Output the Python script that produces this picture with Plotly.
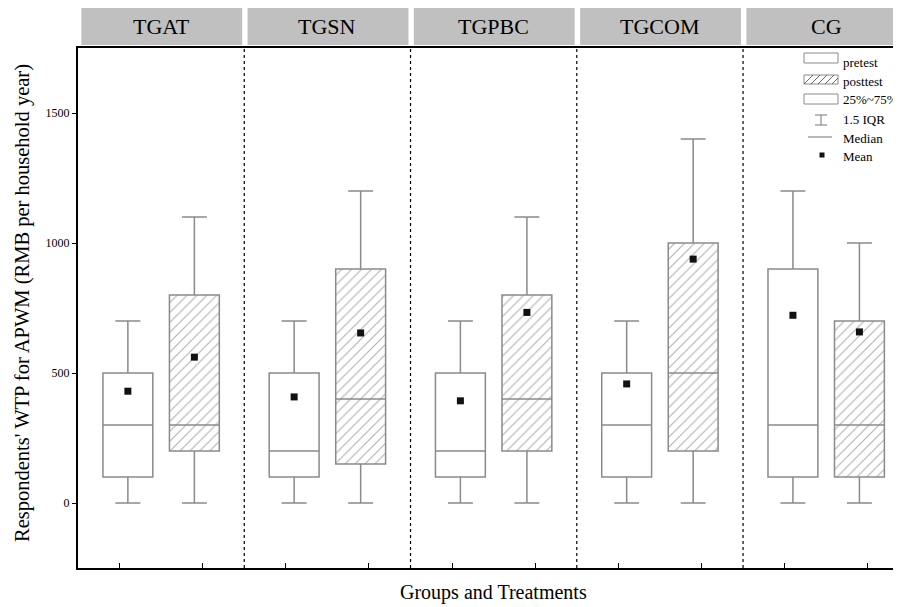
import plotly.graph_objects as go

# ---- data ----
groups = ["TGAT", "TGSN", "TGPBC", "TGCOM", "CG"]
pre_q1 = [100, 100, 100, 100, 100]
pre_median = [300, 200, 200, 300, 300]
pre_q3 = [500, 500, 500, 500, 900]
pre_low = [0, 0, 0, 0, 0]
pre_high = [700, 700, 700, 700, 1200]
pre_mean = [430, 408, 393, 458, 722]

post_q1 = [200, 150, 200, 200, 100]
post_median = [300, 400, 400, 500, 300]
post_q3 = [800, 900, 800, 1000, 700]
post_low = [0, 0, 0, 0, 0]
post_high = [1100, 1200, 1100, 1400, 1000]
post_mean = [561, 654, 733, 938, 658]

y_ticks = [0, 500, 1000, 1500]
legend_labels = ["pretest", "posttest", "25%~75%", "1.5 IQR", "Median", "Mean"]

# ---- layout constants (page body has an 8px margin) ----
OFF = 8
W, H = 901 - OFF, 607 - OFF
ML, MR, MT, MB = 78 - OFF, 0, 48 - OFF, 39
PW, PH = W - ML - MR, H - MT - MB
XMAX = 9.9
FONT = "Liberation Serif"
BOXC = "#8a8a8a"
HATCH = "#666666"

pre_x = [2 * i + 0.6 for i in range(len(groups))]
post_x = [2 * i + 1.4 for i in range(len(groups))]
centers = [2 * i + 1 for i in range(len(groups))]


def px(x):
    return (x - OFF - ML) / PW


def py(y):
    return (H - MB - (y - OFF)) / PH


fig = go.Figure()

# hatched fill of posttest boxes
fig.add_trace(go.Bar(
    x=post_x, base=post_q1, y=[b - a for a, b in zip(post_q1, post_q3)],
    width=0.6, marker=dict(color="white", line=dict(width=0),
                           pattern=dict(shape="/", fgcolor=HATCH, bgcolor="white",
                                        size=7, solidity=0.17)),
    showlegend=False, hoverinfo="skip"))

for xs, q1, med, q3, lo, hi in [(pre_x, pre_q1, pre_median, pre_q3, pre_low, pre_high),
                                (post_x, post_q1, post_median, post_q3, post_low, post_high)]:
    fig.add_trace(go.Box(
        x=xs, q1=q1, median=med, q3=q3, lowerfence=lo, upperfence=hi,
        width=0.6, whiskerwidth=0.5, fillcolor="rgba(0,0,0,0)",
        line=dict(color=BOXC, width=1.5), boxpoints=False, showlegend=False))

fig.add_trace(go.Scatter(
    x=pre_x + post_x, y=pre_mean + post_mean, mode="markers",
    marker=dict(symbol="square", size=7, color="#111111"), showlegend=False))

shapes = []
annotations = []

# dashed group dividers
for i in range(1, len(groups)):
    shapes.append(dict(type="line", xref="x", yref="paper", x0=2 * i, x1=2 * i, y0=0, y1=1,
                       line=dict(color="black", width=1.2, dash="3px,3px")))

# group header strips
for i, g in enumerate(groups):
    x0 = 2 * i + 0.04
    x1 = min(2 * i + 2 - 0.025, XMAX)
    shapes.append(dict(type="rect", xref="x", yref="paper", x0=x0, x1=x1,
                       y0=py(45), y1=py(8), fillcolor="#c0c0c0", line=dict(width=0),
                       layer="above"))
    annotations.append(dict(x=centers[i], xref="x", y=py(26.5), yref="paper", text=g,
                            showarrow=False, font=dict(family=FONT, size=22, color="black"),
                            xanchor="center", yanchor="middle"))

# ---- custom legend ----
lx0, lx1 = 804, 838
box_rows = [(53, 63), (75, 84), (94, 104)]
for (t, b) in box_rows:
    shapes.append(dict(type="rect", xref="paper", yref="paper", x0=px(lx0), x1=px(lx1),
                       y0=py(b), y1=py(t), fillcolor="white", line=dict(color=BOXC, width=1)))
# hatching in posttest swatch
for xs in [804, 811, 818, 825, 832]:
    xe = min(xs + 9, 838)
    shapes.append(dict(type="line", xref="paper", yref="paper", x0=px(xs), y0=py(84),
                       x1=px(xe), y1=py(84 - (xe - xs)),
                       line=dict(color=HATCH, width=1)))
# 1.5 IQR icon
shapes.append(dict(type="line", xref="paper", yref="paper", x0=px(821), x1=px(821),
                   y0=py(125), y1=py(115), line=dict(color=BOXC, width=1.2)))
for yy in (115, 125):
    shapes.append(dict(type="line", xref="paper", yref="paper", x0=px(815), x1=px(827),
                       y0=py(yy), y1=py(yy), line=dict(color=BOXC, width=1.2)))
# median icon
shapes.append(dict(type="line", xref="paper", yref="paper", x0=px(808), x1=px(832),
                   y0=py(137), y1=py(137), line=dict(color=BOXC, width=1.2)))
# mean icon
shapes.append(dict(type="rect", xref="paper", yref="paper", x0=px(819.5), x1=px(824.5),
                   y0=py(157.5), y1=py(152.5), fillcolor="#111111", line=dict(width=0)))

text_rows = [62, 81, 100, 120, 138, 156]
for lab, yy in zip(legend_labels, text_rows):
    annotations.append(dict(x=px(841), y=py(yy), xref="paper", yref="paper", text=lab,
                            showarrow=False, xanchor="left", yanchor="middle",
                            font=dict(family=FONT, size=13, color="black")))

# axis titles
annotations.append(dict(x=px(22), y=py(303), xref="paper", yref="paper",
                        text="Respondents' WTP for APWM (RMB per household year)",
                        textangle=-90, showarrow=False, xanchor="center", yanchor="middle",
                        font=dict(family=FONT, size=20.5, color="black")))
annotations.append(dict(x=px(493), y=py(592), xref="paper", yref="paper",
                        text="Groups and Treatments", showarrow=False,
                        xanchor="center", yanchor="middle",
                        font=dict(family=FONT, size=20, color="black")))

fig.update_layout(
    width=W, height=H,
    margin=dict(l=ML, r=MR, t=MT, b=MB, pad=0),
    paper_bgcolor="white", plot_bgcolor="white",
    barmode="overlay", boxmode="overlay",
    shapes=shapes, annotations=annotations,
    showlegend=False,
    xaxis=dict(range=[0, XMAX], showgrid=False, zeroline=False, showline=True,
               linecolor="black", linewidth=2, mirror=True,
               tickvals=[c + d for c in range(0, 10, 2) for d in (0.5, 1.5)],
               ticks="inside", ticklen=5, tickwidth=1.2, tickcolor="black",
               showticklabels=False, fixedrange=True),
    yaxis=dict(range=[-250, 1750], showgrid=False, zeroline=False, showline=True,
               linecolor="black", linewidth=2, tickvals=y_ticks,
               ticktext=[str(v) for v in y_ticks],
               ticks="outside", ticklen=4, tickwidth=1.2, tickcolor="black",
               tickfont=dict(family=FONT, size=12, color="black"), fixedrange=True),
)

fig.write_html("out.html")
